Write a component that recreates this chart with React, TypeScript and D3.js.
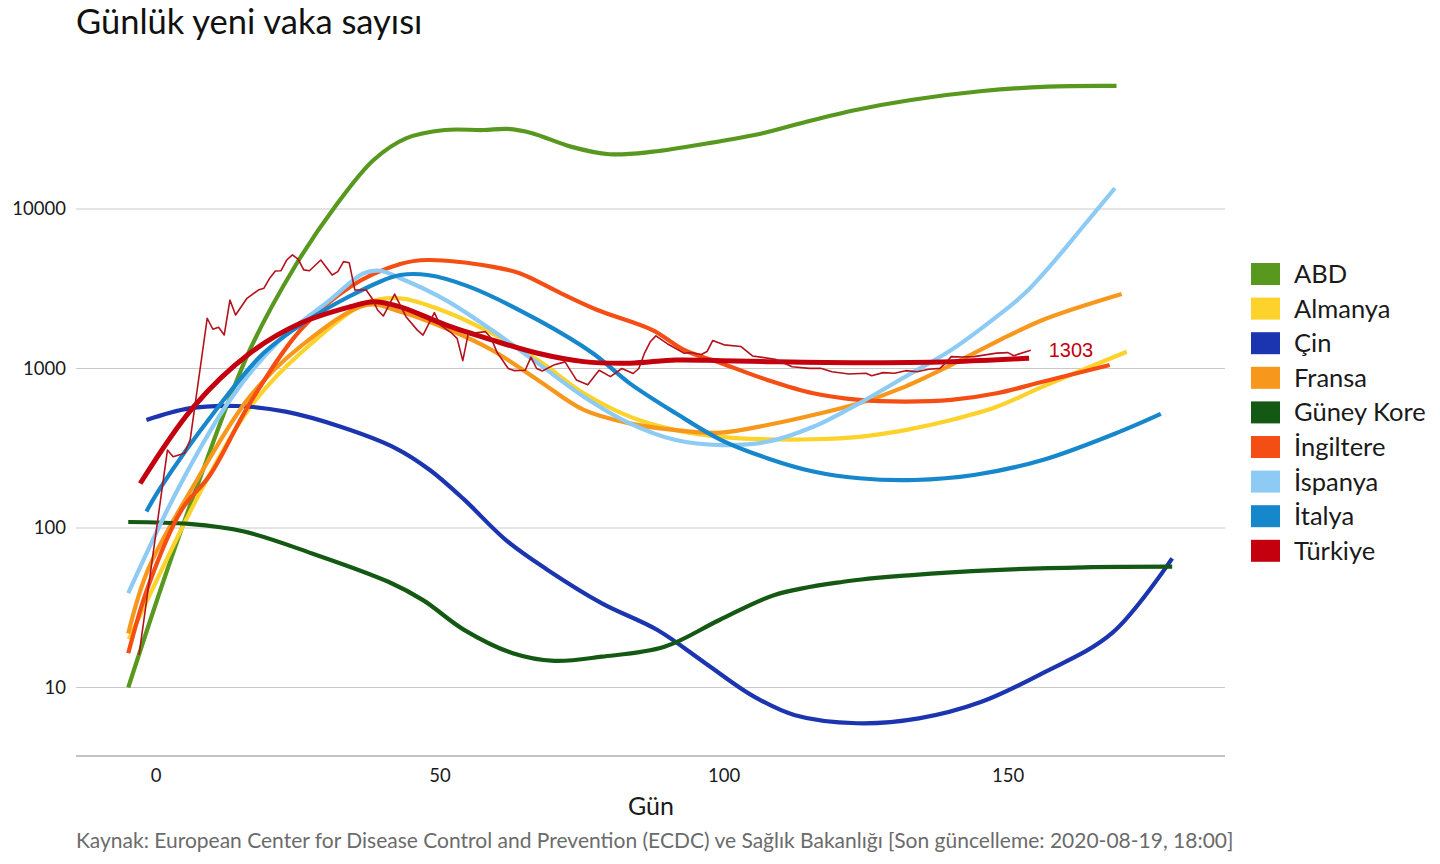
import { useEffect, useRef } from "react";
import * as d3 from "d3";

type Pt = [number, number];

// smoothed series, [day, daily new cases]
const abd: Pt[] = [
  [-4.9, 10], [1.6, 50], [7.2, 182], [16.5, 1306], [24.7, 4520], [31.5, 10330],
  [38.3, 20270], [44, 27700], [50.8, 31260], [57.6, 31260], [61.9, 31750],
  [66.2, 29870], [73, 24600], [79.8, 22030], [87.5, 22870], [97.2, 25820],
  [106.8, 29870], [114.5, 35250], [123.2, 41770], [132.9, 48230], [145.5, 54900],
  [157, 58470], [169.1, 59050],
];
const almanya: Pt[] = [
  [-4.8, 20], [8.9, 200], [17.1, 605], [25.4, 1245], [37.1, 2577], [43, 2755],
  [51, 2270], [59.1, 1663], [67.2, 1130], [75.3, 699], [83.4, 499], [91.5, 411],
  [99.5, 373], [107.6, 360], [115.7, 360], [123.8, 373], [131.9, 411], [140, 475],
  [148, 575], [156.1, 770], [170.9, 1274],
];
const cin: Pt[] = [
  [-1.7, 475], [5.8, 562], [14.3, 582], [22.8, 536], [32.5, 431], [42.2, 316],
  [48.2, 231], [54.3, 150], [61.6, 84], [68.8, 55], [78.5, 33.7], [88.2, 23],
  [96.7, 14.2], [105.2, 8.8], [112.5, 6.7], [123.4, 5.97], [134.3, 6.4],
  [145.2, 8.1], [156.1, 12.3], [168.3, 21.9], [178.9, 64.5],
];
const fransa: Pt[] = [
  [-4.9, 21.8], [-1.4, 55], [7.2, 200], [16.5, 666], [25.4, 1372], [37.1, 2500],
  [43, 2270], [51, 1786], [59.1, 1306], [67.2, 848], [75.3, 550], [83.4, 453],
  [91.5, 411], [99.5, 396], [107.6, 442], [115.7, 511], [123.8, 605], [131.9, 770],
  [140, 1052], [148, 1473], [156.1, 2015], [170, 2930],
];
const guneyKore: Pt[] = [
  [-4.9, 109], [5.8, 106], [15.5, 95], [27.6, 69], [40.9, 46], [47, 35.3],
  [54.3, 22.9], [62.8, 16.4], [70.1, 14.7], [78.5, 15.6], [89.5, 18], [99.2, 26.5],
  [108.9, 38], [121, 46], [133.1, 50.7], [147.6, 54.5], [163.4, 56.7], [178.9, 57.2],
];
const ingiltere: Pt[] = [
  [-4.9, 16.4], [-1.4, 43], [4.5, 130], [9.5, 215], [16.5, 605], [25.4, 1742],
  [34.2, 3260], [43, 4520], [47.8, 4786], [59.1, 4350], [64, 3950], [71.3, 2960],
  [77.7, 2327], [87.4, 1742], [93, 1306], [99.5, 1080], [107.6, 848], [115.7, 699],
  [123.8, 635], [131.9, 620], [140, 635], [148, 699], [156.1, 826], [167.9, 1052],
];
const ispanya: Pt[] = [
  [-4.9, 39], [3.9, 177], [13, 635], [21.8, 1510], [30.6, 2685], [36.5, 3950],
  [39.4, 4100], [43, 3680], [51, 2685], [59.1, 1742], [67.2, 1080], [75.3, 666],
  [83.4, 453], [91.5, 356], [99.5, 331], [107.6, 347], [115.7, 431], [123.8, 605],
  [131.9, 888], [140, 1306], [148, 2113], [153, 2970], [158, 4650], [163, 7600],
  [168.8, 13490],
];
const italya: Pt[] = [
  [-1.7, 127], [0.7, 177], [10.1, 524], [18.9, 1245], [27.7, 2113], [39.4, 3500],
  [43, 3855], [47.8, 3855], [55.1, 3260], [67.2, 2015], [76.9, 1245], [83.4, 807],
  [91.5, 524], [99.5, 356], [107.6, 274], [115.7, 226], [123.8, 205], [133.5, 200],
  [144, 215], [156.1, 267], [169.7, 402], [176.9, 519],
];
const turkiye: Pt[] = [
  [-2.8, 190], [6.6, 575], [16.5, 1245], [25.4, 1919], [34.2, 2437], [38.3, 2623],
  [43, 2437], [51, 1875], [59.1, 1510], [67.2, 1245], [75.3, 1104], [83.4, 1080],
  [91.5, 1130], [99.5, 1119], [107.6, 1104], [123.8, 1087], [140, 1104], [153.7, 1159],
];

// Türkiye raw daily counts
const turkiyeRaw: Pt[] = [
  [-3, 16], [2, 308], [3, 280], [5, 294], [6, 357], [9, 2065], [10, 1762], [11, 1814],
  [12, 1622], [13, 2685], [14, 2163], [16, 2754], [18, 3102], [19, 3186], [20, 3680],
  [21, 4086], [22, 4100], [23, 4786], [24, 5150], [25, 4842], [26, 4150], [27, 4100],
  [29, 4786], [31, 3855], [32, 4045], [33, 4677], [34, 4606], [35, 3102], [37, 3102],
  [38, 2754], [39, 2327], [40, 2133], [42, 2930], [44, 2113], [46, 1740], [47, 1620],
  [49, 2240], [50, 1880], [52, 1670], [53, 1545], [54, 1120], [55, 1678], [56, 1670],
  [58, 1702], [59, 1545], [60, 1270], [62, 1000], [63, 970], [65, 975], [66, 1178],
  [67, 1000], [68, 965], [70, 1050], [72, 1100], [74, 848], [76, 790], [78, 975],
  [80, 889], [82, 1000], [84, 930], [85, 1000], [86, 1250], [87, 1470], [88, 1600],
  [90, 1430], [93, 1246], [94, 1258], [96, 1224], [97, 1277], [98, 1497], [100, 1407],
  [103, 1372], [105, 1198], [109, 1142], [112, 1026], [115, 1002], [117, 1002],
  [119, 955], [122, 924], [125, 933], [126, 901], [128, 942], [130, 933], [132, 969],
  [134, 955], [136, 989], [138, 1002], [139, 1080], [140, 1187], [142, 1180],
  [144, 1187], [146, 1217], [148, 1248], [150, 1258], [151, 1203], [154, 1303],
];

const countries = ["ABD", "Almanya", "Çin", "Fransa", "Güney Kore", "İngiltere", "İspanya", "İtalya", "Türkiye"];
const seriesData = [abd, almanya, cin, fransa, guneyKore, ingiltere, ispanya, italya, turkiye];
const colors = ["#58981e", "#fdd22b", "#1b34b0", "#f7981d", "#135913", "#f54e14", "#8dcbf4", "#1787cb", "#c4000e"];

const yTicks = [10, 100, 1000, 10000];
const xTicks = [0, 50, 100, 150];
const lastValue = "1303";

const title = "Günlük yeni vaka sayısı";
const xTitle = "Gün";
const caption =
  "Kaynak: European Center for Disease Control and Prevention (ECDC) ve Sağlık Bakanlığı [Son güncelleme: 2020-08-19, 18:00]";

const W = 1440;
const H = 864;
const font = "Lato, 'Noto Sans', sans-serif";

export default function App() {
  const ref = useRef<SVGSVGElement>(null);

  useEffect(() => {
    document.body.style.margin = "0";
    if (!ref.current) return;
    const svg = d3.select(ref.current);
    svg.selectAll("*").remove();

    const left = 76;
    const right = 1225;
    const bottom = 756;
    const top = 60;

    const x = d3.scaleLinear().domain([-14.1, 188.2]).range([left, right]);
    const y = d3.scaleLog().domain([3.72, 85900]).range([bottom, top]);

    svg.append("rect").attr("width", W).attr("height", H).attr("fill", "#fff");

    // grid
    svg.append("g")
      .selectAll("line")
      .data(yTicks)
      .join("line")
      .attr("x1", left)
      .attr("x2", right)
      .attr("y1", (d) => y(d))
      .attr("y2", (d) => y(d))
      .attr("stroke", "#c9c9c9")
      .attr("stroke-width", 1.2);

    svg.append("g")
      .selectAll("text")
      .data(yTicks)
      .join("text")
      .attr("x", 66)
      .attr("y", (d) => y(d))
      .attr("dy", "0.35em")
      .attr("text-anchor", "end")
      .attr("font-family", font)
      .attr("font-size", 18.5)
      .attr("fill", "#1a1a1a")
      .text((d) => String(d));

    svg.append("line")
      .attr("x1", left)
      .attr("x2", right)
      .attr("y1", bottom)
      .attr("y2", bottom)
      .attr("stroke", "#8a8a8a")
      .attr("stroke-width", 1.2);

    svg.append("g")
      .selectAll("text")
      .data(xTicks)
      .join("text")
      .attr("x", (d) => x(d))
      .attr("y", 782)
      .attr("text-anchor", "middle")
      .attr("font-family", font)
      .attr("font-size", 18.5)
      .attr("fill", "#1a1a1a")
      .text((d) => String(d));

    const line = d3
      .line<Pt>()
      .x((d) => x(d[0]))
      .y((d) => y(d[1]))
      .curve(d3.curveCatmullRom.alpha(0.5));

    seriesData.forEach((s, i) => {
      svg.append("path")
        .attr("d", line(s))
        .attr("fill", "none")
        .attr("stroke", colors[i])
        .attr("stroke-width", countries[i] === "Türkiye" ? 5 : 4.2);
    });

    const rawLine = d3
      .line<Pt>()
      .x((d) => x(d[0]))
      .y((d) => y(d[1]));

    svg.append("path")
      .attr("d", rawLine(turkiyeRaw))
      .attr("fill", "none")
      .attr("stroke", "#b3121c")
      .attr("stroke-width", 1.6)
      .attr("stroke-linejoin", "round");

    const last = turkiyeRaw[turkiyeRaw.length - 1];
    svg.append("text")
      .attr("x", x(last[0]) + 18)
      .attr("y", y(last[1]))
      .attr("dy", "0.35em")
      .attr("font-family", "'Liberation Sans', Arial, sans-serif")
      .attr("font-size", 20)
      .attr("fill", "#c4000e")
      .text(lastValue);

    // legend
    const legend = svg.append("g").attr("transform", "translate(1251, 274)");
    countries.forEach((c, i) => {
      const row = legend.append("g").attr("transform", `translate(0, ${i * 34.6})`);
      row.append("rect")
        .attr("x", 0)
        .attr("y", -11)
        .attr("width", 29)
        .attr("height", 22)
        .attr("fill", colors[i]);
      row.append("text")
        .attr("x", 43)
        .attr("y", 0)
        .attr("dy", "0.35em")
        .attr("font-family", font)
        .attr("font-size", 25.5)
        .attr("fill", "#1a1a1a")
        .text(c);
    });

    svg.append("text")
      .attr("x", 76)
      .attr("y", 34)
      .attr("font-family", font)
      .attr("font-size", 34.5)
      .attr("fill", "#111")
      .text(title);

    svg.append("text")
      .attr("x", 651)
      .attr("y", 815)
      .attr("text-anchor", "middle")
      .attr("font-family", font)
      .attr("font-size", 25)
      .attr("fill", "#1a1a1a")
      .text(xTitle);

    svg.append("text")
      .attr("x", 76)
      .attr("y", 848)
      .attr("font-family", font)
      .attr("font-size", 21)
      .attr("fill", "#6b6b6b")
      .text(caption);
  }, []);

  return <svg ref={ref} width={W} height={H} style={{ display: "block" }} />;
}
